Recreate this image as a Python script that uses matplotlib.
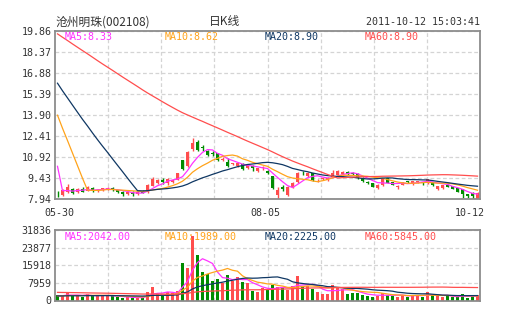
import matplotlib
matplotlib.use("Agg")
import matplotlib.pyplot as plt
import numpy as np
import pandas as pd

# ---- 日K线数据 (05-30 ~ 10-12) ----
opens = [8.40, 8.28, 8.50, 8.68, 8.45, 8.70, 8.55, 8.78, 8.52, 8.60,
         8.68, 8.76, 8.58, 8.48, 8.30, 8.48, 8.32, 8.52, 8.45, 8.92,
         9.10, 9.35, 9.12, 9.20, 9.35, 10.70, 10.30, 11.50, 12.00, 11.62,
         11.38, 11.22, 11.20, 10.76, 10.62, 10.44, 10.30, 10.46, 10.17, 10.30,
         9.98, 10.18, 9.98, 9.58, 8.28, 8.82, 8.28, 8.82, 9.15, 9.85,
         9.58, 9.80, 9.30, 9.38, 9.32, 9.55, 9.65, 9.75, 9.92, 9.85,
         9.75, 9.48, 9.15, 9.08, 8.73, 8.97, 9.44, 9.15, 8.84, 8.98,
         9.22, 9.02, 9.15, 9.12, 9.10, 9.15, 8.68, 8.75, 9.00, 8.88,
         8.72, 8.65, 8.30, 8.42, 7.98]
closes = [8.37, 8.58, 8.80, 8.42, 8.70, 8.50, 8.80, 8.55, 8.62, 8.72,
          8.78, 8.60, 8.45, 8.30, 8.45, 8.30, 8.50, 8.42, 8.95, 9.40,
          9.30, 9.15, 9.38, 9.35, 9.78, 10.12, 11.30, 11.95, 11.45, 11.55,
          11.10, 11.18, 10.72, 10.80, 10.33, 10.47, 10.54, 10.07, 10.35, 10.15,
          10.15, 10.20, 9.82, 8.75, 8.58, 8.65, 8.84, 9.10, 9.85, 9.78,
          9.82, 9.32, 9.33, 9.40, 9.45, 9.82, 9.98, 9.88, 9.72, 9.75,
          9.48, 9.22, 9.12, 8.85, 9.00, 9.38, 9.13, 8.98, 8.86, 9.15,
          9.18, 9.25, 9.22, 9.10, 9.38, 8.95, 8.90, 8.95, 8.85, 8.70,
          8.50, 8.30, 8.18, 8.20, 8.42]
highs = [8.55, 8.65, 9.05, 8.72, 8.76, 8.80, 8.90, 8.84, 8.68, 8.78,
         8.85, 8.80, 8.62, 8.52, 8.50, 8.52, 8.55, 8.58, 9.05, 9.55,
         9.42, 9.45, 9.45, 9.42, 9.85, 10.75, 11.35, 12.30, 12.15, 11.80,
         11.45, 11.35, 11.25, 10.95, 10.85, 10.55, 10.58, 10.50, 10.40, 10.35,
         10.20, 10.30, 10.05, 9.62, 8.80, 8.95, 8.90, 9.15, 9.90, 9.95,
         9.88, 9.85, 9.42, 9.48, 9.50, 10.05, 10.02, 9.95, 9.98, 9.92,
         9.80, 9.52, 9.25, 9.12, 9.05, 9.40, 9.48, 9.20, 8.95, 9.18,
         9.28, 9.28, 9.25, 9.20, 9.42, 9.18, 8.92, 8.98, 9.02, 8.92,
         8.75, 8.68, 8.33, 8.45, 8.45]
lows = [8.12, 8.22, 8.42, 8.35, 8.40, 8.45, 8.52, 8.50, 8.45, 8.55,
        8.62, 8.55, 8.40, 8.22, 8.25, 8.22, 8.28, 8.38, 8.40, 8.88,
        9.05, 9.05, 9.00, 9.10, 9.30, 10.05, 10.25, 11.35, 11.35, 11.40,
        11.00, 11.05, 10.65, 10.65, 10.25, 10.35, 10.25, 10.00, 10.10, 9.95,
        9.92, 10.05, 9.75, 8.70, 7.98, 8.55, 8.20, 8.75, 9.10, 9.70,
        9.52, 9.28, 9.20, 9.30, 9.28, 9.50, 9.60, 9.70, 9.65, 9.70,
        9.42, 9.15, 9.05, 8.80, 8.68, 8.92, 9.10, 8.95, 8.70, 8.95,
        9.10, 8.98, 9.10, 9.00, 9.05, 8.90, 8.62, 8.70, 8.80, 8.66,
        8.45, 8.05, 8.08, 8.00, 7.95]
volumes = [2550, 1900, 3750, 2000, 2200, 1800, 3000, 2050, 2300, 2100,
           2250, 1950, 1500, 1150, 1450, 1100, 1600, 1250, 4050, 6300,
           3000, 2200, 3700, 3300, 4300, 16800, 14800, 29300, 20500, 12900,
           11900, 9000, 9900, 7950, 11550, 8700, 10650, 8400, 7950, 4500,
           4050, 5700, 5400, 6900, 6000, 5700, 4800, 6750, 10950, 6750,
           6750, 5400, 3900, 3000, 3000, 6900, 5700, 5400, 3000, 3450,
           3300, 2550, 2100, 1650, 2250, 3500, 2300, 2250, 1700, 2600,
           1650, 2600, 2560, 1650, 3800, 2600, 1850, 1700, 1850, 1680,
           1600, 2850, 1300, 2000, 2460]

# 05-30 之前的收盘价、成交量，只用来算均线
prior_closes = [22.9, 22.7, 23.0, 22.8, 22.5, 22.6, 22.9, 23.1, 22.8, 22.4,
                22.2, 22.5, 22.3, 22.0, 21.8, 22.1, 22.4, 22.2, 21.9, 21.6,
                21.8, 21.5, 21.2, 21.4, 21.0, 20.8, 21.1, 20.7,
                20.4, 20.6, 20.2, 19.9, 20.1, 19.8, 19.5, 19.7, 19.9, 19.6,
                19.2, 19.0, 19.3, 18.9, 18.6, 18.8, 18.5, 18.2, 18.4, 18.1,
                17.9, 17.6, 17.8, 17.5, 17.3, 17.6, 17.4, 17.2,
                8.75, 8.62, 8.50]
prior_volumes = [4800, 5200, 4300, 4100, 4700, 5600, 4900, 4200, 3900, 4400,
                 5100, 4600, 4300, 4000, 4500, 4800, 5300, 4700, 4200, 4400,
                 4600, 4100, 3800, 4300, 4900, 4500, 4200, 4000, 4600, 4800,
                 4400, 4100, 4700, 4300, 4000, 4500, 4200, 4600, 4400, 4300,
                 2300, 2100, 1900, 2200, 2000, 1800, 2100, 2400, 1900, 2000,
                 1700, 2100, 1900, 2200, 2000, 1800, 2300, 2100, 2000]

price_ticks = [7.94, 9.43, 10.92, 12.41, 13.90, 15.39, 16.88, 18.37, 19.86]
vol_ticks = [0, 7959, 15918, 23877, 31836]
date_labels = ["05-30", "08-05", "10-12"]
ma_windows = [5, 10, 20, 60]
price_ma_text = ["MA5:8.33", "MA10:8.62", "MA20:8.90", "MA60:8.90"]
vol_ma_text = ["MA5:2042.00", "MA10:1989.00", "MA20:2225.00", "MA60:5845.00"]

MA_COLORS = ["#ff33ff", "#ffa31a", "#0f3763", "#ff4d4d"]
RED = "#ff4d4d"
GREEN = "#008c00"
GRID = "#d4d4d4"
FRAME = "#8c8c8c"
TXT = "#333333"
MONO = "DejaVu Sans Mono"

W, H = 505, 330
fig = plt.figure(figsize=(W / 100, H / 100), dpi=100)
fig.patch.set_facecolor("white")


def px_text(x, y, s, **kw):
    fig.text(x / W, 1 - y / H, s, **kw)


n = len(closes)
x = np.arange(n)
o = np.array(opens)
c = np.array(closes)
cols = np.where(c >= o, RED, GREEN)

all_close = pd.Series(prior_closes + closes)
all_vol = pd.Series(prior_volumes + volumes, dtype=float)
price_ma = [all_close.rolling(w).mean().to_numpy()[-n:] for w in ma_windows]
vol_ma = [all_vol.rolling(w).mean().to_numpy()[-n:] for w in ma_windows]

vgrid = [-0.5 + n * k / 8 for k in range(1, 8)]

ax_k = fig.add_axes([55 / W, 1 - 199.5 / H, 425 / W, 168.5 / H])
ax_v = fig.add_axes([55 / W, 1 - 300.5 / H, 425 / W, 70.5 / H])

for ax in (ax_k, ax_v):
    ax.set_xlim(-0.5, n - 0.5)
    ax.set_xticks(vgrid)
    ax.set_xticklabels([])
    ax.tick_params(length=0, labelsize=7.2, labelcolor=TXT, pad=2.5)
    ax.grid(True, color=GRID, linestyle=(0, (3, 2)), linewidth=0.9)
    ax.set_axisbelow(True)
    for sp in ax.spines.values():
        sp.set_color(FRAME)
        sp.set_linewidth(1.3)

# K线
ax_k.vlines(x, lows, highs, colors=cols, linewidth=1)
body_low = np.minimum(o, c)
body_h = np.maximum(np.abs(c - o), 0.05)
ax_k.bar(x, body_h, width=0.72, bottom=body_low, color=cols, linewidth=0)
for ma, col in zip(price_ma, MA_COLORS):
    ax_k.plot(x, ma, color=col, linewidth=0.9)
ax_k.set_ylim(price_ticks[0], price_ticks[-1])
ax_k.set_yticks(price_ticks)
ax_k.set_yticklabels(["%.2f" % t for t in price_ticks], fontfamily=MONO)

# 成交量
ax_v.bar(x, volumes, width=0.76, color=cols, linewidth=0)
for ma, col in zip(vol_ma, MA_COLORS):
    ax_v.plot(x, ma, color=col, linewidth=0.9)
ax_v.set_ylim(vol_ticks[0], vol_ticks[-1])
ax_v.set_yticks(vol_ticks)
ax_v.set_yticklabels([str(t) for t in vol_ticks], fontfamily=MONO)

# 标题、时间
px_text(55, 22, "沧州明珠(002108)", family=["Noto Sans CJK SC", "DejaVu Sans"],
        fontsize=8.5, color=TXT, va="center", ha="left")
px_text(225, 22, "日K线", family=["Noto Sans CJK SC", "DejaVu Sans"],
        fontsize=8.5, color=TXT, va="center", ha="center")
px_text(480, 22, "2011-10-12 15:03:41", family=MONO, fontsize=7.2,
        color=TXT, va="center", ha="right")

# 均线数值
for i, col in enumerate(MA_COLORS):
    px_text(65 + 100 * i, 37.5, price_ma_text[i], family=MONO, fontsize=7.2,
            color=col, va="center", ha="left")
    px_text(65 + 100 * i, 236.5, vol_ma_text[i], family=MONO, fontsize=7.2,
            color=col, va="center", ha="left")

# 日期
for lab, xp in zip(date_labels, [59.5, 265, 469.5]):
    px_text(xp, 213.5, lab, family=MONO, fontsize=7.2, color=TXT,
            va="center", ha="center")

fig.savefig("out.png", dpi=100)
